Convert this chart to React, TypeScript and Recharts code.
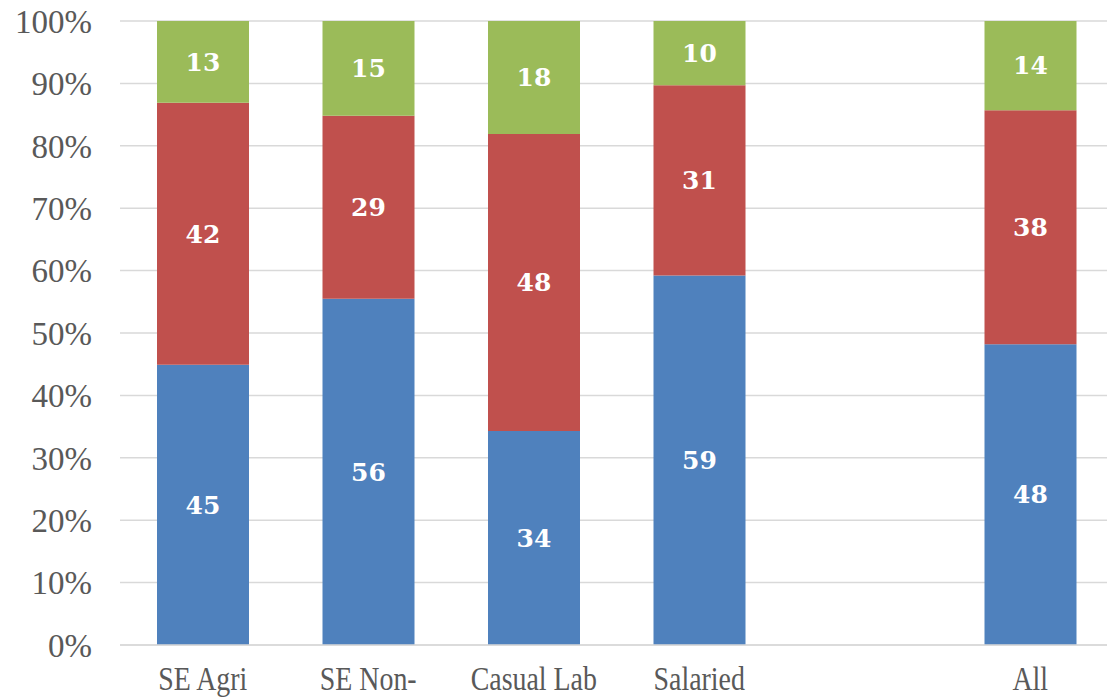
import { BarChart, Bar, XAxis, YAxis, CartesianGrid, LabelList } from "recharts";

const categories = ["SE Agri", "SE Non-", "Casual Lab", "Salaried", "", "All"];
const blueValues = [44.9, 55.5, 34.3, 59.2, null, 48.2];
const redValues = [42.0, 29.3, 47.6, 30.5, null, 37.5];
const greenValues = [13.1, 15.2, 18.1, 10.3, null, 14.3];
const yTicks = [0, 10, 20, 30, 40, 50, 60, 70, 80, 90, 100];

const data = categories.map((name, i) => ({
  name,
  blue: blueValues[i],
  red: redValues[i],
  green: greenValues[i],
}));

const CategoryTick = ({ x, y, payload }: any) => (
  <g transform={`translate(${x},${y + 37}) scale(0.82,1)`}>
    <text
      x={0}
      y={0}
      textAnchor="middle"
      fill="#595959"
      fontSize={34}
      fontFamily="'Liberation Serif', serif"
    >
      {payload.value}
    </text>
  </g>
);

const fmtLabel = (v: any) => (v == null ? "" : Math.round(v));

const labelStyle = {
  fill: "#ffffff",
  fontSize: 25,
  fontWeight: 700,
  fontFamily: "'DejaVu Serif', serif",
};

export default function App() {
  return (
    <div
      style={{
        position: "fixed",
        left: 0,
        top: 0,
        width: 1107,
        height: 700,
        overflow: "hidden",
        background: "#fff",
      }}
    >
      <BarChart
        width={1113}
        height={700}
        data={data}
        margin={{ top: 21, right: 0, bottom: 0, left: 0 }}
      >
        <CartesianGrid vertical={false} stroke="#d9d9d9" strokeWidth={1.5} />
        <XAxis
          dataKey="name"
          height={55}
          tickLine={false}
          axisLine={{ stroke: "#d9d9d9", strokeWidth: 1.5 }}
          tick={<CategoryTick />}
          interval={0}
        />
        <YAxis
          width={120}
          domain={[0, 100]}
          ticks={yTicks}
          tickFormatter={(v) => `${v}%`}
          axisLine={false}
          tickLine={false}
          tickSize={0}
          tickMargin={28}
          tick={{ fill: "#595959", fontSize: 33, fontFamily: "'Liberation Serif', serif" }}
        />
        <Bar dataKey="blue" stackId="a" fill="#4F81BD" barSize={92} isAnimationActive={false}>
          <LabelList dataKey="blue" position="center" formatter={fmtLabel} style={labelStyle} />
        </Bar>
        <Bar dataKey="red" stackId="a" fill="#C0504D" barSize={92} isAnimationActive={false}>
          <LabelList dataKey="red" position="center" formatter={fmtLabel} style={labelStyle} />
        </Bar>
        <Bar dataKey="green" stackId="a" fill="#9BBB59" barSize={92} isAnimationActive={false}>
          <LabelList dataKey="green" position="center" formatter={fmtLabel} style={labelStyle} />
        </Bar>
      </BarChart>
    </div>
  );
}
